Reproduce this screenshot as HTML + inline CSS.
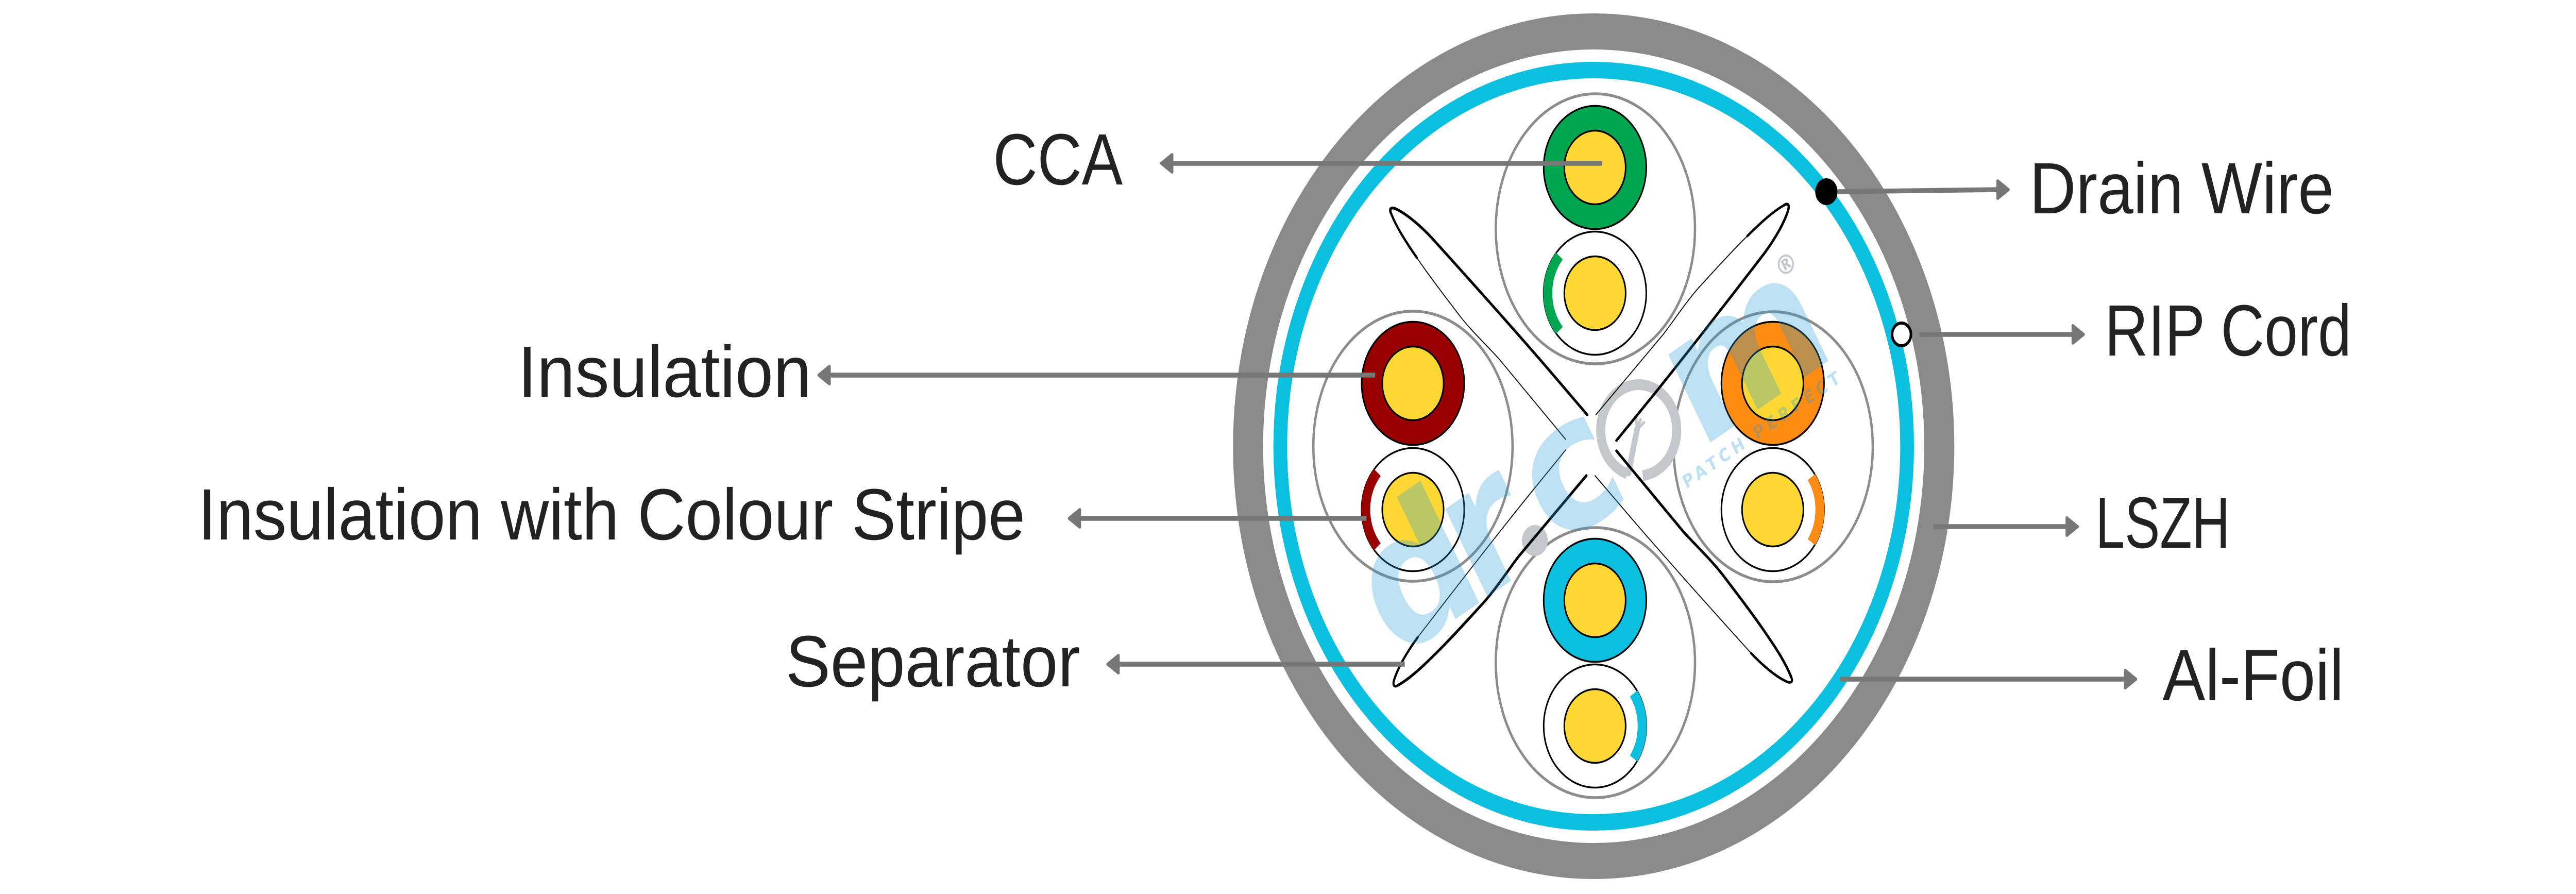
<!DOCTYPE html>
<html>
<head>
<meta charset="utf-8">
<style>
  html, body { margin: 0; padding: 0; background: #ffffff; overflow: hidden; width: 100%; height: 100%; }
  svg { display: block; width: 100vw; height: 100vh; }
  .lbl { font-family: "Liberation Sans", Arial, sans-serif; font-size: 141px; fill: #222222; }
</style>
</head>
<body>
<svg xmlns="http://www.w3.org/2000/svg" viewBox="0 0 6000 1735" preserveAspectRatio="none">
  <rect x="0" y="0" width="6000" height="1735" fill="#ffffff"/>

  <!-- Outer LSZH jacket and Al-foil -->
  <circle cx="3712" cy="866" r="805" fill="none" stroke="#8a8a8a" stroke-width="70"/>
  <circle cx="3712" cy="866" r="730" fill="none" stroke="#0cbfdf" stroke-width="32"/>

  <!-- Pair ellipses -->
  <g fill="none" stroke="#8c8c8c" stroke-width="5.5">
    <ellipse cx="3716" cy="444" rx="232" ry="262"/>
    <ellipse cx="3291" cy="866" rx="232" ry="262"/>
    <ellipse cx="4130" cy="867" rx="232" ry="262"/>
    <ellipse cx="3716" cy="1286" rx="232" ry="262"/>
  </g>

  <!-- Conductors -->
  <g stroke="#000" stroke-width="3.5">
    <circle cx="3715" cy="325" r="119.5" fill="#00a551"/>
    <circle cx="3715" cy="325" r="71.5" fill="#fdd835"/>
    <circle cx="3715" cy="569" r="119.5" fill="#ffffff"/>
    <circle cx="3715" cy="569" r="71.5" fill="#fdd835"/>
    <circle cx="3291" cy="744" r="119.5" fill="#990000"/>
    <circle cx="3291" cy="744" r="71.5" fill="#fdd835"/>
    <circle cx="3291" cy="989" r="119.5" fill="#ffffff"/>
    <circle cx="3291" cy="989" r="71.5" fill="#fdd835"/>
    <circle cx="4129" cy="744" r="119.5" fill="#fd8c15"/>
    <circle cx="4129" cy="744" r="71.5" fill="#fdd835"/>
    <circle cx="4129" cy="989" r="119.5" fill="#ffffff"/>
    <circle cx="4129" cy="989" r="71.5" fill="#fdd835"/>
    <circle cx="3715" cy="1165" r="119.5" fill="#0cbfdf"/>
    <circle cx="3715" cy="1165" r="71.5" fill="#fdd835"/>
    <circle cx="3715" cy="1409" r="119.5" fill="#ffffff"/>
    <circle cx="3715" cy="1409" r="71.5" fill="#fdd835"/>
  </g>
  <!-- Colour stripes -->
  <g fill="none" stroke-width="21">
    <path d="M3632,641.2 A110,110 0 0 1 3632,496.8" stroke="#00a551"/>
    <path d="M3208,1061.2 A110,110 0 0 1 3208,916.8" stroke="#990000"/>
    <path d="M4219.1,925.9 A110,110 0 0 1 4219.1,1052.1" stroke="#fd8c15"/>
    <path d="M3805.1,1345.9 A110,110 0 0 1 3805.1,1472.1" stroke="#0cbfdf"/>
  </g>

  <!-- Grey logo "o" with cable icon, and dot -->
  <g fill="none" stroke="#c4c7cc">
    <path d="M3789.7,919.2 A88.5,88.5 0 1 1 3826.3,923" stroke-width="21"/>
    <path d="M3793,918 L3813,833" stroke-width="13" stroke-linecap="round"/>
    <path d="M3813,833 L3811,812 M3813,833 L3821,814 M3813,833 L3829,820" stroke-width="6" stroke-linecap="round"/>
  </g>
  <circle cx="3575" cy="1049" r="30" fill="#c4c7cc"/>

  <!-- Separator (X cross) -->
  <g fill="none" stroke="#000" stroke-linecap="round" stroke-linejoin="round">
    <g>
      <path d="M3697,805 L3614,724 C3540,652 3420,540 3333,460 C3300,431 3272,414 3255,407 C3240,400 3235,405 3240,414" stroke-width="5.5"/>
      <path d="M3240,414 C3252,440 3275,470 3300,500 C3330,537 3370,580 3400,613 C3430,645 3470,676 3492,697 L3647,853" stroke-width="2"/>
      <path d="M3240,414 C3252,440 3275,470 3300,500" stroke-width="5"/>
    </g>
    <g transform="rotate(90 3706 864)">
      <path d="M3697,805 L3614,724 C3540,652 3420,540 3333,460 C3300,431 3272,414 3255,407 C3240,400 3235,405 3240,414" stroke-width="5.5"/>
      <path d="M3240,414 C3252,440 3275,470 3300,500 C3330,537 3370,580 3400,613 C3430,645 3470,676 3492,697 L3647,853" stroke-width="2"/>
      <path d="M3240,414 C3252,440 3275,470 3300,500" stroke-width="5"/>
    </g>
    <g transform="rotate(180 3706 864)">
      <path d="M3697,805 L3614,724 C3540,652 3420,540 3333,460 C3300,431 3272,414 3255,407 C3240,400 3235,405 3240,414" stroke-width="2"/>
      <path d="M3333,460 C3300,431 3272,414 3255,407 C3240,400 3235,405 3240,414" stroke-width="5"/>
      <path d="M3240,414 C3252,440 3275,470 3300,500 C3330,537 3370,580 3400,613 C3430,645 3470,676 3492,697 L3647,853" stroke-width="5.5"/>
    </g>
    <g transform="rotate(270 3706 864)">
      <path d="M3697,805 L3614,724 C3540,652 3420,540 3333,460 C3300,431 3272,414 3255,407 C3240,400 3235,405 3240,414" stroke-width="2"/>
      <path d="M3333,460 C3300,431 3272,414 3255,407 C3240,400 3235,405 3240,414" stroke-width="5"/>
      <path d="M3240,414 C3252,440 3275,470 3300,500 C3330,537 3370,580 3400,613 C3430,645 3470,676 3492,697 L3647,853" stroke-width="5.5"/>
    </g>
  </g>

  <!-- Watermark logo (translucent) -->
  <g transform="translate(3302 1137) rotate(-30)">
    <g fill="rgb(38,155,211)" fill-opacity="0.3" font-family="'DejaVu Sans', 'Liberation Sans', sans-serif" font-weight="bold" font-size="360">
      <text x="-120" y="100">d</text>
      <text x="100" y="100">r</text>
      <text x="310" y="100">c</text>
      <text x="700" y="100">m</text>
      <text x="636" y="150" font-size="35" textLength="416" lengthAdjust="spacing">PATCH PERFECT</text>
    </g>
    <text x="1055" y="-93" text-anchor="middle" font-family="'DejaVu Sans', sans-serif" font-weight="bold" font-size="52" fill="#c4c7cc">®</text>
  </g>

  <!-- Leader lines -->
  <g stroke="#777777" stroke-width="9.5" fill="none">
    <line x1="2728" y1="317" x2="3731" y2="317"/>
    <line x1="1930" y1="728" x2="3203" y2="728"/>
    <line x1="2513" y1="1006" x2="3183" y2="1006"/>
    <line x1="2603" y1="1289" x2="3272" y2="1289"/>
    <line x1="4280" y1="372" x2="4656" y2="368"/>
    <line x1="4471" y1="649" x2="4831" y2="649"/>
    <line x1="4503" y1="1022" x2="4817" y2="1022"/>
    <line x1="4286" y1="1318" x2="4953" y2="1318"/>
  </g>
  <!-- Arrowheads -->
  <g fill="#777777" stroke="#777777" stroke-width="6" stroke-linejoin="round">
    <polygon points="2705,317 2730,300 2730,334"/>
    <polygon points="1907,728 1932,711 1932,745"/>
    <polygon points="2490,1006 2515,989 2515,1023"/>
    <polygon points="2580,1289 2605,1272 2605,1306"/>
    <polygon points="4678,368 4653,351 4653,385"/>
    <polygon points="4853,649 4828,632 4828,666"/>
    <polygon points="4839,1022 4814,1005 4814,1039"/>
    <polygon points="4975,1318 4950,1301 4950,1335"/>
  </g>

  <!-- Drain wire & RIP cord -->
  <circle cx="4254" cy="372" r="26" fill="#000"/>
  <circle cx="4429" cy="649" r="22" fill="#fff" stroke="#000" stroke-width="6"/>

  <!-- Labels -->
  <text class="lbl" x="2313" y="358" textLength="302" lengthAdjust="spacingAndGlyphs">CCA</text>
  <text class="lbl" x="1206" y="770" textLength="684" lengthAdjust="spacingAndGlyphs">Insulation</text>
  <text class="lbl" x="461" y="1047" textLength="1927" lengthAdjust="spacingAndGlyphs">Insulation with Colour Stripe</text>
  <text class="lbl" x="1830" y="1332" textLength="686" lengthAdjust="spacingAndGlyphs">Separator</text>

  <text class="lbl" x="4727" y="414" textLength="709" lengthAdjust="spacingAndGlyphs">Drain Wire</text>
  <text class="lbl" x="4902" y="690" textLength="575" lengthAdjust="spacingAndGlyphs">RIP Cord</text>
  <text class="lbl" x="4881" y="1063" textLength="313" lengthAdjust="spacingAndGlyphs">LSZH</text>
  <text class="lbl" x="5037" y="1359" textLength="422" lengthAdjust="spacingAndGlyphs">Al-Foil</text>
</svg>
</body>
</html>
